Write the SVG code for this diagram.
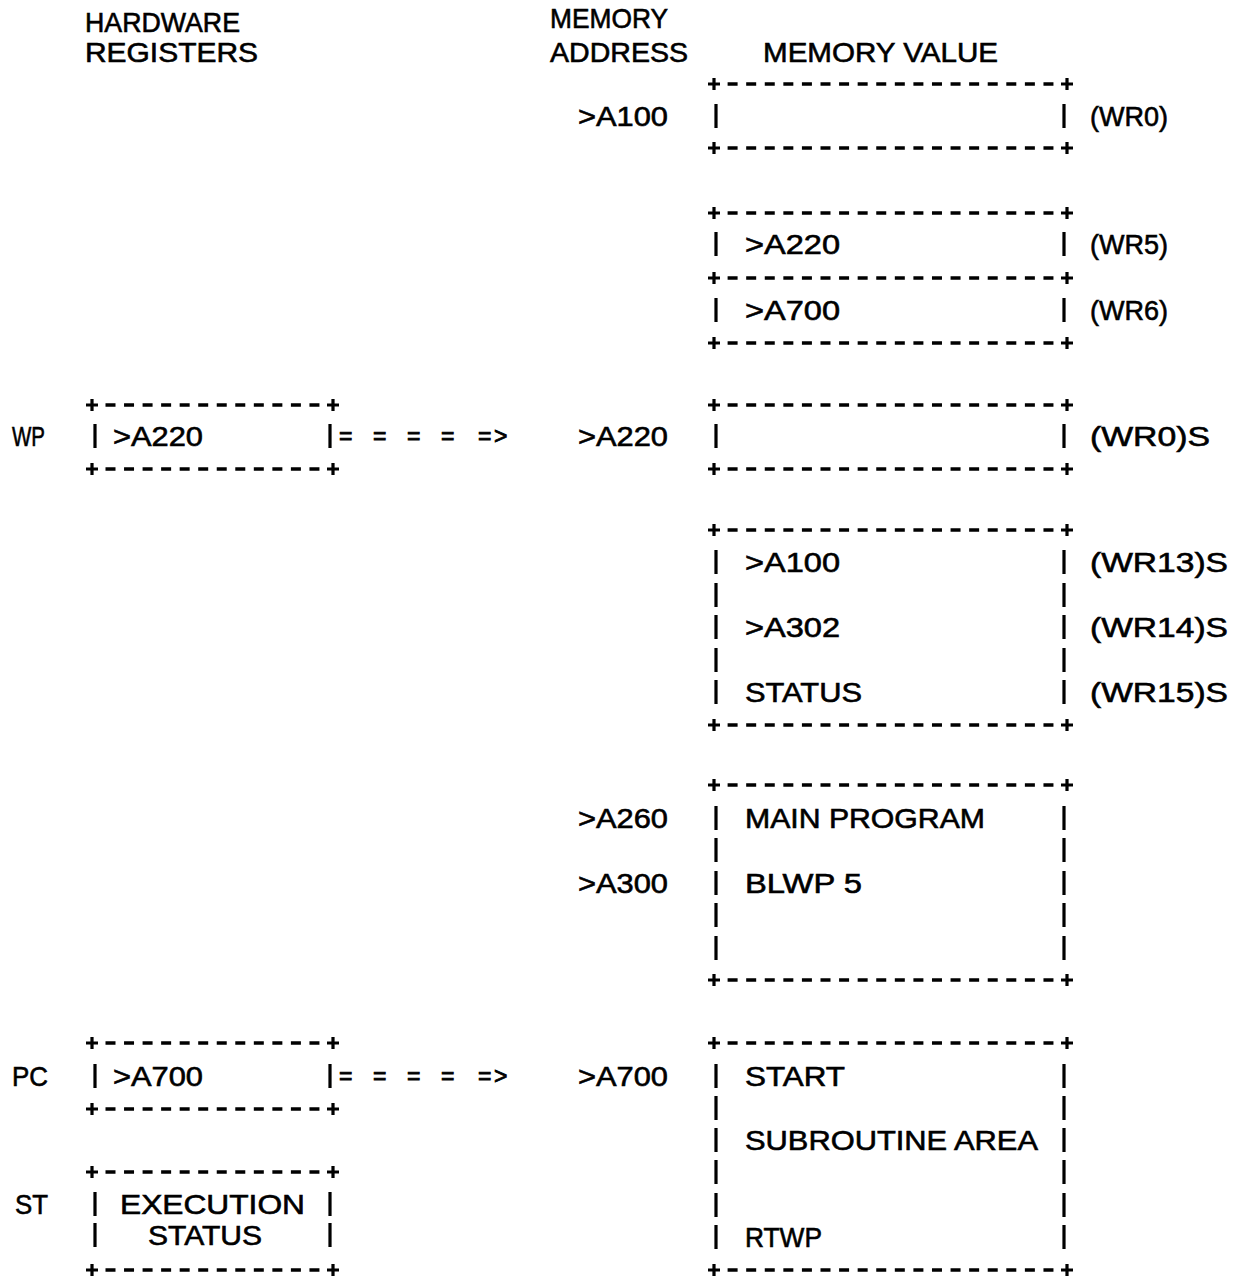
<svg xmlns="http://www.w3.org/2000/svg" width="1242" height="1277" viewBox="0 0 1242 1277">
<style>
text{font-family:"Liberation Sans",Arial,sans-serif;font-size:28px;fill:#000;stroke:#000;stroke-width:0.6}
.arrow{font-size:23px;stroke-width:0.8}
.d{stroke:#000;stroke-width:3.4;fill:none}
.dm{stroke-dasharray:10 8.58}
.dl{stroke-dasharray:10 8.54}
.c{stroke:#000;stroke-width:3.2;fill:none}
.b{stroke:#000;stroke-width:3.2;fill:none}
</style>
<rect width="1242" height="1277" fill="#fff"/>
<g id="headers">
<text x="85" y="32" textLength="155" lengthAdjust="spacingAndGlyphs">HARDWARE</text>
<text x="85" y="62" textLength="173" lengthAdjust="spacingAndGlyphs">REGISTERS</text>
<text x="550" y="28" textLength="118" lengthAdjust="spacingAndGlyphs">MEMORY</text>
<text x="550" y="62" textLength="138" lengthAdjust="spacingAndGlyphs">ADDRESS</text>
<text x="763" y="62" textLength="235" lengthAdjust="spacingAndGlyphs">MEMORY VALUE</text>
</g>

<g id="mem-a100">
<text x="578" y="126" textLength="90" lengthAdjust="spacingAndGlyphs">&gt;A100</text>
<path class="c" d="M708 84h12M714 78v12M1061 84h12M1067 78v12M708 148h12M714 142v12M1061 148h12M1067 142v12"/>
<path class="d dm" d="M727.6 84H1053.5M727.6 148H1053.5"/>
<path class="b" d="M716 104v24M1064 104v24"/>
<text x="1090" y="126" textLength="78" lengthAdjust="spacingAndGlyphs">(WR0)</text>
</g>

<g id="mem-wr5-wr6">
<path class="c" d="M708 213h12M714 207v12M1061 213h12M1067 207v12M708 278h12M714 272v12M1061 278h12M1067 272v12M708 343h12M714 337v12M1061 343h12M1067 337v12"/>
<path class="d dm" d="M727.6 213H1053.5M727.6 278H1053.5M727.6 343H1053.5"/>
<path class="b" d="M716 232v24M1064 232v24M716 298v24M1064 298v24"/>
<text x="745" y="254" textLength="95" lengthAdjust="spacingAndGlyphs">&gt;A220</text>
<text x="745" y="320" textLength="95" lengthAdjust="spacingAndGlyphs">&gt;A700</text>
<text x="1090" y="254" textLength="78" lengthAdjust="spacingAndGlyphs">(WR5)</text>
<text x="1090" y="320" textLength="78" lengthAdjust="spacingAndGlyphs">(WR6)</text>
</g>

<g id="reg-wp">
<text x="12" y="446" textLength="33" lengthAdjust="spacingAndGlyphs">WP</text>
<path class="c" d="M86 405h12M92 399v12M327 405h12M333 399v12M86 469h12M92 463v12M327 469h12M333 463v12"/>
<path class="d dl" d="M105.5 405H319.5M105.5 469H319.5"/>
<path class="b" d="M95 424v24M330 424v24"/>
<text x="113" y="446" textLength="90" lengthAdjust="spacingAndGlyphs">&gt;A220</text>
</g>

<g id="mem-wp">
<text x="578" y="446" textLength="90" lengthAdjust="spacingAndGlyphs">&gt;A220</text>
<path class="c" d="M708 405h12M714 399v12M1061 405h12M1067 399v12M708 469h12M714 463v12M1061 469h12M1067 463v12"/>
<path class="d dm" d="M727.6 405H1053.5M727.6 469H1053.5"/>
<path class="b" d="M716 424v24M1064 424v24"/>
<text x="1090" y="446" textLength="120" lengthAdjust="spacingAndGlyphs">(WR0)S</text>
</g>

<g id="mem-wr13-wr15">
<path class="c" d="M708 530h12M714 524v12M1061 530h12M1067 524v12M708 725h12M714 719v12M1061 725h12M1067 719v12"/>
<path class="d dm" d="M727.6 530H1053.5M727.6 725H1053.5"/>
<path class="b" d="M716 550v24M1064 550v24M716 583v24M1064 583v24M716 615v24M1064 615v24M716 648v24M1064 648v24M716 680v24M1064 680v24"/>
<text x="745" y="572" textLength="95" lengthAdjust="spacingAndGlyphs">&gt;A100</text>
<text x="745" y="637" textLength="95" lengthAdjust="spacingAndGlyphs">&gt;A302</text>
<text x="745" y="702" textLength="117" lengthAdjust="spacingAndGlyphs">STATUS</text>
<text x="1090" y="572" textLength="138" lengthAdjust="spacingAndGlyphs">(WR13)S</text>
<text x="1090" y="637" textLength="138" lengthAdjust="spacingAndGlyphs">(WR14)S</text>
<text x="1090" y="702" textLength="138" lengthAdjust="spacingAndGlyphs">(WR15)S</text>
</g>

<g id="mem-main">
<text x="578" y="828" textLength="90" lengthAdjust="spacingAndGlyphs">&gt;A260</text>
<text x="578" y="893" textLength="90" lengthAdjust="spacingAndGlyphs">&gt;A300</text>
<path class="c" d="M708 785h12M714 779v12M1061 785h12M1067 779v12M708 980h12M714 974v12M1061 980h12M1067 974v12"/>
<path class="d dm" d="M727.6 785H1053.5M727.6 980H1053.5"/>
<path class="b" d="M716 806v24M1064 806v24M716 838v24M1064 838v24M716 871v24M1064 871v24M716 903v24M1064 903v24M716 936v24M1064 936v24"/>
<text x="745" y="828" textLength="240" lengthAdjust="spacingAndGlyphs">MAIN PROGRAM</text>
<text x="745" y="893" textLength="117" lengthAdjust="spacingAndGlyphs">BLWP 5</text>
</g>

<g id="reg-pc">
<text x="12" y="1086" textLength="36" lengthAdjust="spacingAndGlyphs">PC</text>
<path class="c" d="M86 1043h12M92 1037v12M327 1043h12M333 1037v12M86 1109h12M92 1103v12M327 1109h12M333 1103v12"/>
<path class="d dl" d="M105.5 1043H319.5M105.5 1109H319.5"/>
<path class="b" d="M95 1064v24M330 1064v24"/>
<text x="113" y="1086" textLength="90" lengthAdjust="spacingAndGlyphs">&gt;A700</text>
</g>

<g id="mem-sub">
<text x="578" y="1086" textLength="90" lengthAdjust="spacingAndGlyphs">&gt;A700</text>
<path class="c" d="M708 1043h12M714 1037v12M1061 1043h12M1067 1037v12M708 1270h12M714 1264v12M1061 1270h12M1067 1264v12"/>
<path class="d dm" d="M727.6 1043H1053.5M727.6 1270H1053.5"/>
<path class="b" d="M716 1064v24M1064 1064v24M716 1096v24M1064 1096v24M716 1128v24M1064 1128v24M716 1160v24M1064 1160v24M716 1193v24M1064 1193v24M716 1225v24M1064 1225v24"/>
<text x="745" y="1086" textLength="100" lengthAdjust="spacingAndGlyphs">START</text>
<text x="745" y="1150" textLength="293" lengthAdjust="spacingAndGlyphs">SUBROUTINE AREA</text>
<text x="745" y="1247" textLength="77" lengthAdjust="spacingAndGlyphs">RTWP</text>
</g>

<g id="reg-st">
<text x="15" y="1214" textLength="33" lengthAdjust="spacingAndGlyphs">ST</text>
<path class="c" d="M86 1172h12M92 1166v12M327 1172h12M333 1166v12M86 1270h12M92 1264v12M327 1270h12M333 1264v12"/>
<path class="d dl" d="M105.5 1172H319.5M105.5 1270H319.5"/>
<path class="b" d="M95 1192v24M330 1192v24M95 1223v24M330 1223v24"/>
<text x="120" y="1214" textLength="185" lengthAdjust="spacingAndGlyphs">EXECUTION</text>
<text x="148" y="1245" textLength="114" lengthAdjust="spacingAndGlyphs">STATUS</text>
</g>

<g id="connectors">
<text class="arrow" x="339 356 373 390 407 424 441 458 478 494" y="444">= = = = =&gt;</text>
<text class="arrow" x="339 356 373 390 407 424 441 458 478 494" y="1084">= = = = =&gt;</text>
</g>
</svg>
